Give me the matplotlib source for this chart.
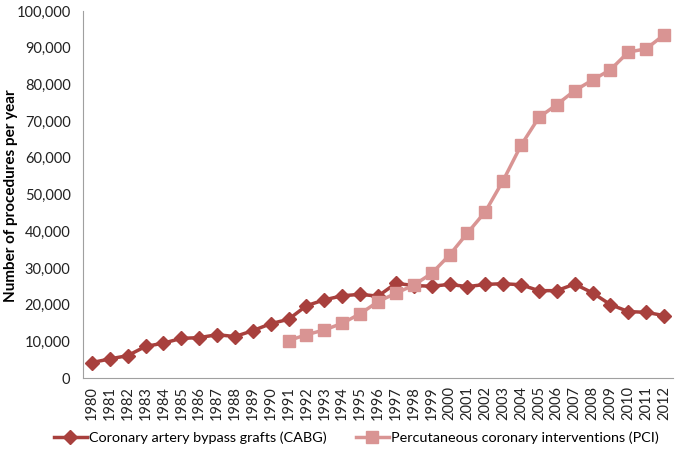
import matplotlib.pyplot as plt
from matplotlib.ticker import FuncFormatter

plt.rcParams['font.family'] = ['Lato', 'DejaVu Sans']

years = list(range(1980, 2013))
cabg = [4200, 5200, 6100, 8600, 9500, 10800, 11000, 11800, 11300, 12900,
        14800, 16000, 19700, 21300, 22400, 22800, 22300, 25800, 25200, 25000,
        25500, 24900, 25500, 25700, 25400, 23800, 23800, 25600, 23200, 20000,
        18100, 17900, 17000]
pci_years = list(range(1991, 2013))
pci = [10200, 11800, 13100, 14900, 17500, 20800, 23100, 25300, 28500, 33500,
       39500, 45300, 53800, 63400, 71000, 74500, 78300, 81200, 84000, 88800,
       89700, 93500]

cabg_color = '#A8403D'
pci_color = '#D99493'

fig = plt.figure(figsize=(6.75, 4.55), dpi=100)
ax = fig.add_axes([83 / 675, 1 - 378 / 455, 590 / 675, 367 / 455])

x_all = list(range(len(years)))
x_pci = [years.index(y) for y in pci_years]

ax.plot(x_all, cabg, color=cabg_color, lw=2.5, marker='D', ms=7,
        label='Coronary artery bypass grafts (CABG)')
ax.plot(x_pci, pci, color=pci_color, lw=2.5, marker='s', ms=8,
        label='Percutaneous coronary interventions (PCI)')

ax.set_xlim(-0.5, len(years) - 0.5)
ax.set_ylim(0, 100000)
ax.set_yticks(range(0, 100001, 10000))
ax.yaxis.set_major_formatter(FuncFormatter(lambda v, p: f'{int(v):,}'))
ax.set_xticks(x_all)
ax.set_xticklabels([str(y) for y in years], rotation=90)
ax.tick_params(axis='both', length=0, labelsize=10.5, colors='#222222')
ax.tick_params(axis='x', pad=6)
ax.tick_params(axis='y', pad=9)

for s in ['top', 'right']:
    ax.spines[s].set_visible(False)
for s in ['left', 'bottom']:
    ax.spines[s].set_color('#A0A0A0')

fig.text(0.006, 0.57, 'Number of procedures per year', rotation=90,
         fontsize=11, fontweight='bold', va='center', ha='left')

fig.legend(loc='center', bbox_to_anchor=(0.528, 1 - 438 / 455), ncol=2,
           frameon=False, fontsize=10.4, columnspacing=2.0, handlelength=2.3,
           handletextpad=0.15)

fig.savefig('out.png', dpi=100)
